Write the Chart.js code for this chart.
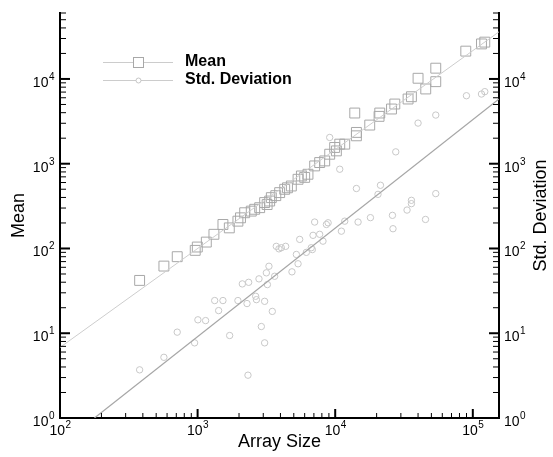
<!DOCTYPE html>
<html>
<head>
<meta charset="utf-8">
<script src="https://cdn.jsdelivr.net/npm/chart.js@4/dist/chart.umd.min.js"></script>
<style>
  body { margin: 0; background: #fff; }
  #wrap { width: 553px; height: 457px; }
</style>
</head>
<body>
<div id="wrap"><canvas id="chart"></canvas></div>
<script>
// values
const meanX = [379, 569, 711, 961, 995, 1157, 1314, 1528, 1700, 1963, 2050, 2198, 2455, 2600, 2825,
  3070, 3200, 3340, 3434, 3700, 3948, 4295, 4500, 4800, 5370, 5680, 6000, 6340, 7090, 7710,
  8390, 9120, 9910, 10200, 10790, 11730, 13870, 14260, 14260, 17820, 20830, 21080, 25650, 27110, 33850,
  35800, 40000, 45500, 53800, 53800, 88900, 115600, 122200];
const meanY = [42, 62, 80, 95, 104, 119, 147, 192, 175, 210, 230, 264, 276, 290, 303,
  348, 330, 363, 398, 420, 456, 499, 520, 546, 655, 717, 690, 751, 942, 1032,
  1079, 1294, 1555, 1417, 1702, 1702, 3963, 2134, 2340, 2857, 3620, 3963, 4420, 5060, 5800,
  6170, 10190, 7620, 13400, 9290, 21300, 25900, 27200];

const stdX = [379, 569, 711, 951, 1005, 1143, 1331, 1422, 1528, 1710, 1963, 2113, 2286, 2323, 2350,
  2642, 2675, 2793, 2905, 3070, 3070, 3160, 3215, 3300, 3490, 3630, 3730, 3900, 4060, 4365,
  4850, 5220, 5370, 5520, 6170, 6700, 6820, 6900, 7090, 7710, 8150, 8630, 8880, 9120, 10790,
  11090, 11730, 14260, 14660, 18030, 20460, 21330, 26060, 26300, 27540, 33270, 35800, 35800, 40000, 45300,
  53800, 53800, 89900, 115600, 122200];
const stdY = [3.7, 5.2, 10.3, 7.7, 14.4, 14.1, 24.3, 18.5, 24.3, 9.4, 24.3, 38.2, 22.4, 3.2, 39.9,
  27.3, 24.9, 43.8, 12.0, 23.8, 7.7, 51.6, 37.5, 61.7, 18.1, 47, 106, 99, 102, 106,
  53, 85, 66, 128, 90, 102, 97, 143, 205, 147, 122, 192, 201, 2040, 861,
  160, 210, 510, 205, 231, 435, 557, 246, 171, 1380, 284, 370, 338, 3015, 220,
  3750, 444, 6340, 6640, 7080];

// fitted lines (end points)
const meanFitX = [100, 155000];
const meanFitY = [6.8, 36000];
const stdFitX = [178, 155000];
const stdFitY = [1, 5800];

const xRange = [100, 155000];
const yRange = [1, 60000];
const xTickExps = [2, 3, 4, 5];
const yTickExps = [0, 1, 2, 3, 4];

const FONT = "'Liberation Sans', Arial, Helvetica, sans-serif";

function toPoints(xs, ys) {
  return xs.map((v, i) => ({ x: v, y: ys[i] }));
}

function tickValues(scale) {
  const vals = [];
  const lo = Math.floor(Math.log10(scale.min));
  const hi = Math.ceil(Math.log10(scale.max));
  for (let e = lo; e <= hi; e++) {
    for (let d = 1; d <= 9; d++) {
      const v = d * Math.pow(10, e);
      if (v >= scale.min * 0.999 && v <= scale.max * 1.001) vals.push(v);
    }
  }
  return vals;
}

function isDecade(v) {
  const l = Math.log10(v);
  return Math.abs(l - Math.round(l)) < 1e-9;
}

function drawPow(ctx, exp, px, py, align) {
  ctx.font = '14px ' + FONT;
  const w10 = ctx.measureText('10').width;
  ctx.font = '10px ' + FONT;
  const we = ctx.measureText(String(exp)).width;
  let start;
  if (align === 'center') start = px - (w10 + we) / 2;
  else if (align === 'right') start = px - (w10 + we);
  else start = px;
  ctx.textAlign = 'left';
  ctx.textBaseline = 'alphabetic';
  ctx.font = '14px ' + FONT;
  ctx.fillText('10', start, py);
  ctx.font = '10px ' + FONT;
  ctx.fillText(String(exp), start + w10 + 0.5, py - 7);
}

const axisDecor = {
  id: 'axisDecor',
  afterDraw(chart) {
    const ctx = chart.ctx;
    const { x, y, y2 } = chart.scales;
    const area = chart.chartArea;
    ctx.save();
    ctx.strokeStyle = '#000';
    ctx.fillStyle = '#000';

    // tick marks, pointing into the plot
    tickValues(x).forEach(v => {
      const major = isDecade(v);
      const px = x.getPixelForValue(v);
      ctx.lineWidth = major ? 2 : 1;
      ctx.beginPath();
      ctx.moveTo(px, area.bottom);
      ctx.lineTo(px, area.bottom - (major ? 9 : 5));
      ctx.stroke();
    });
    tickValues(y).forEach(v => {
      const major = isDecade(v);
      const py = y.getPixelForValue(v);
      ctx.lineWidth = major ? 2 : 1;
      ctx.beginPath();
      ctx.moveTo(area.left, py);
      ctx.lineTo(area.left + (major ? 10 : 6), py);
      ctx.stroke();
    });
    tickValues(y2).forEach(v => {
      const major = isDecade(v);
      const py = y2.getPixelForValue(v);
      ctx.lineWidth = major ? 2 : 1;
      ctx.beginPath();
      ctx.moveTo(area.right, py);
      ctx.lineTo(area.right - (major ? 10 : 6), py);
      ctx.stroke();
    });

    // tick labels
    xTickExps.forEach(e => {
      drawPow(ctx, e, x.getPixelForValue(Math.pow(10, e)), area.bottom + 17, 'center');
    });
    yTickExps.forEach(e => {
      drawPow(ctx, e, area.left - 6, y.getPixelForValue(Math.pow(10, e)) + 8, 'right');
      drawPow(ctx, e, area.right + 5, y2.getPixelForValue(Math.pow(10, e)) + 8, 'left');
    });

    // right axis title, reads bottom to top
    ctx.save();
    ctx.translate(541, (area.top + area.bottom) / 2);
    ctx.rotate(-Math.PI / 2);
    ctx.font = '18px ' + FONT;
    ctx.textAlign = 'center';
    ctx.textBaseline = 'middle';
    ctx.fillText('Std. Deviation', 0, 0);
    ctx.restore();

    // legend
    ctx.lineWidth = 1;
    ctx.strokeStyle = '#cccccc';
    [62, 80].forEach(ly => {
      ctx.beginPath();
      ctx.moveTo(103, ly + 0.5);
      ctx.lineTo(173, ly + 0.5);
      ctx.stroke();
    });
    ctx.fillStyle = '#fff';
    ctx.strokeStyle = '#a8a8a8';
    ctx.fillRect(133, 57, 10, 10);
    ctx.strokeRect(133.5, 57.5, 10, 10);
    ctx.strokeStyle = '#c4c4c4';
    ctx.beginPath();
    ctx.arc(138.5, 80.5, 2.5, 0, Math.PI * 2);
    ctx.fill();
    ctx.stroke();
    ctx.fillStyle = '#000';
    ctx.font = 'bold 16px ' + FONT;
    ctx.textAlign = 'left';
    ctx.textBaseline = 'middle';
    ctx.fillText('Mean', 185, 62);
    ctx.fillText('Std. Deviation', 185, 80);
    ctx.restore();
  }
};

const ctx = document.getElementById('chart').getContext('2d');
new Chart(ctx, {
  type: 'scatter',
  data: {
    datasets: [
      {
        label: 'Mean fit',
        data: toPoints(meanFitX, meanFitY),
        showLine: true,
        pointRadius: 0,
        borderColor: '#cdcdcd',
        borderWidth: 1,
        yAxisID: 'y'
      },
      {
        label: 'Std. Deviation fit',
        data: toPoints(stdFitX, stdFitY),
        showLine: true,
        pointRadius: 0,
        borderColor: '#a6a6a6',
        borderWidth: 1.2,
        yAxisID: 'y2'
      },
      {
        label: 'Std. Deviation',
        data: toPoints(stdX, stdY),
        pointStyle: 'circle',
        pointRadius: 3.2,
        borderWidth: 1,
        borderColor: '#c8c8c8',
        backgroundColor: 'rgba(0,0,0,0)',
        yAxisID: 'y2'
      },
      {
        label: 'Mean',
        data: toPoints(meanX, meanY),
        pointStyle: 'rect',
        pointRadius: 7,
        borderWidth: 1,
        borderColor: '#a8a8a8',
        backgroundColor: 'rgba(0,0,0,0)',
        yAxisID: 'y'
      }
    ]
  },
  options: {
    responsive: true,
    maintainAspectRatio: false,
    animation: false,
    devicePixelRatio: 1,
    layout: { padding: { top: 13, left: 0, right: 0, bottom: 0 } },
    plugins: {
      legend: { display: false },
      tooltip: { enabled: false }
    },
    scales: {
      x: {
        type: 'logarithmic',
        position: 'bottom',
        min: xRange[0],
        max: xRange[1],
        grid: { display: false },
        border: { display: true, color: '#000', width: 2 },
        ticks: { display: false },
        title: {
          display: true,
          text: 'Array Size',
          color: '#000',
          font: { family: FONT, size: 18 },
          padding: { top: 0, bottom: 4 }
        },
        afterFit: s => { s.height = 39; }
      },
      y: {
        type: 'logarithmic',
        position: 'left',
        min: yRange[0],
        max: yRange[1],
        grid: { display: false },
        border: { display: true, color: '#000', width: 2 },
        ticks: { display: false },
        title: {
          display: true,
          text: 'Mean',
          color: '#000',
          font: { family: FONT, size: 18 },
          padding: { top: 8, bottom: 0 }
        },
        afterFit: s => { s.width = 60; }
      },
      y2: {
        type: 'logarithmic',
        position: 'right',
        min: yRange[0],
        max: yRange[1],
        grid: { display: false },
        border: { display: true, color: '#000', width: 2 },
        ticks: { display: false },
        afterFit: s => { s.width = 54; }
      }
    }
  },
  plugins: [axisDecor]
});
</script>
</body>
</html>
